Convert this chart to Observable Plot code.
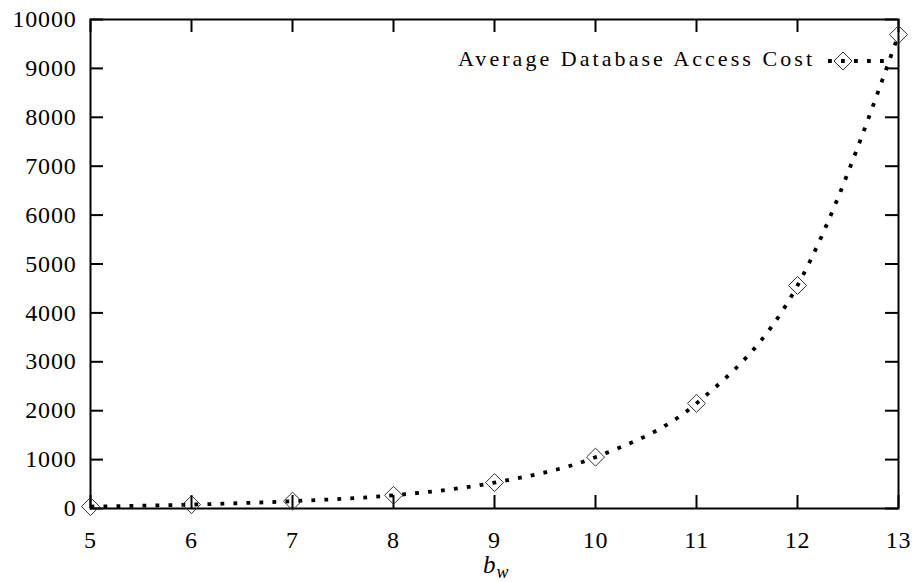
<!DOCTYPE html>
<html>
<head>
<meta charset="utf-8">
<script src="https://cdn.jsdelivr.net/npm/d3@7"></script>
<script src="https://cdn.jsdelivr.net/npm/@observablehq/plot@0.6"></script>
<style>
  html, body { margin: 0; padding: 0; background: #fff; }
  #chart svg { display: block; }
  #chart svg, #chart svg text { font-family: "Liberation Serif", "Times New Roman", serif !important; }
  #chart svg g[aria-label="y-axis tick label"] text, #chart svg g[aria-label="x-axis tick label"] text { letter-spacing: 0.8px; }
</style>
</head>
<body>
<div id="chart"></div>
<script>
const bw = [5, 6, 7, 8, 9, 10, 11, 12, 13];
const cost = [40, 80, 150, 270, 530, 1050, 2150, 4560, 9690];
const xTicks = [5, 6, 7, 8, 9, 10, 11, 12, 13];
const yTicks = [0, 1000, 2000, 3000, 4000, 5000, 6000, 7000, 8000, 9000, 10000];
const seriesLabel = "Average Database Access Cost";

const data = bw.map((x, i) => ({x, y: cost[i]}));

const W = 912, H = 582;
const mL = 90, mR = 14, mT = 19, mB = 74;
const pw = W - mL - mR, ph = H - mT - mB;
const tick = 13;
const font = "'Liberation Serif', 'Times New Roman', serif";

const plot = Plot.plot({
  width: W, height: H,
  marginLeft: mL, marginRight: mR, marginTop: mT, marginBottom: mB,
  style: {fontFamily: font, fontSize: "24px", color: "#000", background: "#fff"},
  x: {domain: [5, 13]},
  y: {domain: [0, 10000]},
  marks: [
    // tick labels
    Plot.axisX(xTicks, {anchor: "bottom", tickSize: 0, tickPadding: 22, label: null, fontSize: 24, tickFormat: d3.format("d")}),
    Plot.axisY(yTicks, {anchor: "left", tickSize: 0, tickPadding: 14, label: null, fontSize: 24, tickFormat: d3.format("d")}),
    // inward ticks (mirrored)
    Plot.ruleX(xTicks, {x: d => d, insetTop: ph - tick, stroke: "#000", strokeWidth: 2}),
    Plot.ruleX(xTicks, {x: d => d, insetBottom: ph - tick, stroke: "#000", strokeWidth: 2}),
    Plot.ruleY(yTicks, {y: d => d, insetRight: pw - tick, stroke: "#000", strokeWidth: 2}),
    Plot.ruleY(yTicks, {y: d => d, insetLeft: pw - tick, stroke: "#000", strokeWidth: 2}),
    Plot.frame({stroke: "#000", strokeWidth: 2}),
    // data
    Plot.line(data, {x: "x", y: "y", curve: "monotone-x", stroke: "#000", strokeWidth: 3.8,
      strokeDasharray: "3.8,9.2", strokeLinecap: "butt"}),
    Plot.dot(data, {x: "x", y: "y", symbol: "diamond2", r: 8.1, stroke: "#333", strokeWidth: 1, fill: "none"})
  ]
});

const svg = d3.select(plot);
// legend
const lg = svg.append("g");
lg.append("text")
  .attr("x", 458).attr("y", 66)
  .attr("text-anchor", "start")
  .attr("font-family", font).attr("font-size", 22)
  .attr("textLength", 354).attr("lengthAdjust", "spacing")
  .text(seriesLabel);
lg.append("line")
  .attr("x1", 828).attr("x2", 888).attr("y1", 61).attr("y2", 61)
  .attr("stroke", "#000").attr("stroke-width", 3.8)
  .attr("stroke-dasharray", "3.8,9.2");
lg.append("path")
  .attr("transform", "translate(843,61)")
  .attr("d", d3.symbol(d3.symbolDiamond2, 206)())
  .attr("fill", "none").attr("stroke", "#333").attr("stroke-width", 1);
// x-axis title b_w
const t = svg.append("text")
  .attr("x", 483).attr("y", 573)
  .attr("text-anchor", "start")
  .attr("font-family", font).attr("font-size", 25).attr("font-style", "italic");
t.append("tspan").text("b");
t.append("tspan").attr("dy", 5).attr("dx", 1).attr("font-size", 18).text("w");

document.getElementById("chart").appendChild(plot);
</script>
</body>
</html>
